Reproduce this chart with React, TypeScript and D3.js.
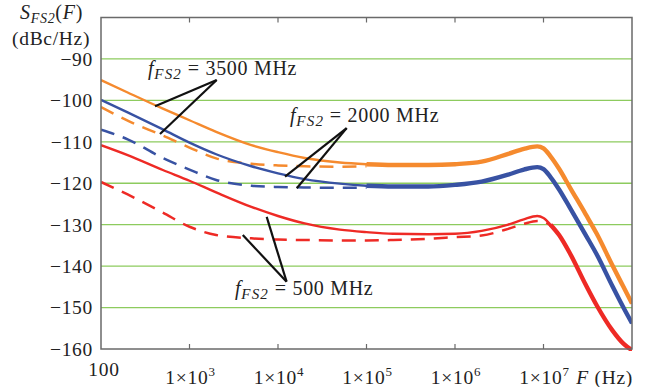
import React from "react";
import * as d3 from "d3";

const W = 651;
const H = 387;

// frequencies (Hz) shared by all series
const freqs = [100, 200, 500, 1e3, 2e3, 5e3, 1e4, 2e4, 5e4, 1e5, 2e5, 5e5, 1e6, 2e6, 4e6, 6e6, 8.5e6, 1e7, 1.2e7, 1.5e7, 2e7, 3e7, 4e7, 6e7, 8e7, 1e8];

// f_FS2 = 3500 MHz
const orangeSolid = [-95.1, -98.1, -102.0, -104.8, -107.6, -110.8, -112.5, -113.9, -115.0, -115.4, -115.6, -115.6, -115.4, -114.8, -112.9, -111.7, -111.1, -111.6, -113.5, -116.5, -121.1, -127.5, -132.2, -139.8, -145.0, -149.0];
const orangeDashed = [-101.6, -104.9, -108.5, -111.4, -114.0, -115.3, -115.7, -115.9, -116.0, -115.9, null, null, null, null, null, null, null, null, null, null, null, null, null, null, null, null];

// f_FS2 = 2000 MHz
const blueSolid = [-99.9, -102.9, -107.0, -110.2, -113.0, -115.9, -117.6, -119.0, -120.1, -120.6, -120.8, -120.8, -120.4, -119.6, -117.9, -116.7, -116.1, -116.6, -118.5, -121.5, -126.0, -132.5, -137.2, -144.8, -150.0, -153.8];
const blueDashed = [-107.1, -109.4, -113.9, -116.7, -119.2, -120.6, -120.9, -121.0, -121.1, -121.1, null, null, null, null, null, null, null, null, null, null, null, null, null, null, null, null];

// f_FS2 = 500 MHz
const redSolid = [-110.8, -113.2, -116.8, -119.4, -122.2, -125.7, -127.9, -129.7, -131.2, -131.8, -132.2, -132.3, -132.2, -131.5, -130.0, -128.7, -127.9, -128.4, -130.0, -132.5, -137.0, -144.5, -149.5, -155.5, -158.7, -160.3];
const redDashed = [-119.7, -122.7, -127.1, -130.5, -132.5, -133.3, -133.6, -133.7, -133.8, -133.8, -133.7, -133.4, -133.0, -132.6, -131.0, -129.8, -129.1, -129.2, -130.3, null, null, null, null, null, null, null];

const yTicks = [-90, -100, -110, -120, -130, -140, -150, -160];
const xTickExps = [3, 4, 5, 6, 7];

const COLORS = { orange: "#F58A2E", blue: "#3852A3", red: "#EE2A25", grid: "#8DCB5E", axis: "#6a6a6a", text: "#222" };

// annotations in data units: label anchor, convergence point, pointer targets
const annotations = [
  { value: "3500", label: [340, -93.9], join: [2030, -95.1], targets: [[408, -101.4], [464, -108.1]] },
  { value: "2000", label: [13.7e3, -105.2], join: [59.7e3, -106.7], targets: [[12e3, -118.4], [16.3e3, -121.2]] },
  { value: "500", label: [3.27e3, -147.0], join: [12.5e3, -143.75], targets: [[4.0e3, -132.5], [7.45e3, -128.1]] },
];

const FONT = "'Liberation Serif', 'DejaVu Serif', 'Times New Roman', serif";
const FS = 19.5;
const LS = 0.7;

export default function App() {
  const x = d3.scaleLog().domain([1e2, 1e8]).range([101, 632]);
  const y = d3.scaleLinear().domain([-160, -80]).range([349, 17.5]);

  const line = d3
    .line<number | null>()
    .defined((d) => d != null)
    .x((_, i) => x(freqs[i]))
    .y((d) => y(d as number))
    .curve(d3.curveMonotoneX);

  const mergedFrom = (solid: number[], dashed: (number | null)[]) => {
    let last = 0;
    dashed.forEach((d, i) => {
      if (d != null) last = i;
    });
    return solid.map((v, i) => (i >= last ? v : null));
  };

  const series = [
    { solid: orangeSolid, dashed: orangeDashed, color: COLORS.orange },
    { solid: blueSolid, dashed: blueDashed, color: COLORS.blue },
    { solid: redSolid, dashed: redDashed, color: COLORS.red },
  ];

  const [x0, x1] = x.range();
  const [yb, yt] = y.range();

  return (
    <svg width={W} height={H} style={{ position: "absolute", left: 0, top: 0 }} fontFamily={FONT}>
      <rect width={W} height={H} fill="#fff" />
      {yTicks.filter((t) => t > -160).map((t) => (
        <line key={t} x1={x0} x2={x1} y1={y(t)} y2={y(t)} stroke={COLORS.grid} strokeWidth={1.3} />
      ))}
      <defs>
        <clipPath id="plot">
          <rect x={x0} y={yt} width={x1 - x0} height={yb - yt + 2} />
        </clipPath>
      </defs>
      <g clipPath="url(#plot)">
        {series.map((s, k) => (
          <g key={k} fill="none" stroke={s.color} strokeLinecap="butt">
            <path d={line(s.dashed) || ""} strokeWidth={2.5} strokeDasharray="14 9" />
            <path d={line(s.solid) || ""} strokeWidth={2.4} />
            <path d={line(mergedFrom(s.solid, s.dashed)) || ""} strokeWidth={4.4} />
          </g>
        ))}
      </g>
      <rect x={x0} y={yt} width={x1 - x0} height={yb - yt} fill="none" stroke={COLORS.axis} strokeWidth={1.5} />
      {xTickExps.map((e) => (
        <g key={e} stroke={COLORS.axis} strokeWidth={1.2}>
          <line x1={x(10 ** e)} x2={x(10 ** e)} y1={yb} y2={yb - 5} />
          <line x1={x(10 ** e)} x2={x(10 ** e)} y1={yt} y2={yt + 5} />
        </g>
      ))}
      {yTicks.map((t) => (
        <text key={t} x={93} y={y(t)} dy="0.35em" textAnchor="end" fontSize={FS} letterSpacing={LS} fill={COLORS.text}>
          {"\u2212" + Math.abs(t)}
        </text>
      ))}
      <text x={x(100) + 3} y={376} textAnchor="middle" fontSize={FS} letterSpacing={LS} fill={COLORS.text}>100</text>
      {xTickExps.map((e) => (
        <text key={e} x={x(10 ** e) + 1} y={384} textAnchor="middle" fontSize={FS} letterSpacing={LS} fill={COLORS.text}>
          1×10
          <tspan dy={-8} fontSize={13}>{e}</tspan>
        </text>
      ))}
      <text x={x1 + 1} y={384} textAnchor="end" fontSize={FS} letterSpacing={LS} fill={COLORS.text}>
        <tspan fontStyle="italic">F</tspan> (Hz)
      </text>
      <text x={20} y={19} fontSize={20} letterSpacing={LS} fill={COLORS.text}>
        <tspan fontStyle="italic">S</tspan>
        <tspan fontStyle="italic" fontSize={14} dy={4}>FS2</tspan>
        <tspan dy={-4}>(</tspan>
        <tspan fontStyle="italic">F</tspan>
        <tspan>)</tspan>
      </text>
      <text x={12} y={45} fontSize={FS} letterSpacing={LS} fill={COLORS.text}>(dBc/Hz)</text>
      {annotations.map((a) => (
        <g key={a.value}>
          {a.targets.map((t, i) => (
            <line key={i} x1={x(a.join[0])} y1={y(a.join[1])} x2={x(t[0])} y2={y(t[1])} stroke="#111" strokeWidth={2.2} />
          ))}
          <text x={x(a.label[0])} y={y(a.label[1])} fontSize={20} letterSpacing={LS} fill={COLORS.text}>
            <tspan fontStyle="italic">f</tspan>
            <tspan fontStyle="italic" fontSize={15} dy={4} letterSpacing={1.2}>FS2</tspan>
            <tspan dy={-4}>{` = ${a.value} MHz`}</tspan>
          </text>
        </g>
      ))}
    </svg>
  );
}
